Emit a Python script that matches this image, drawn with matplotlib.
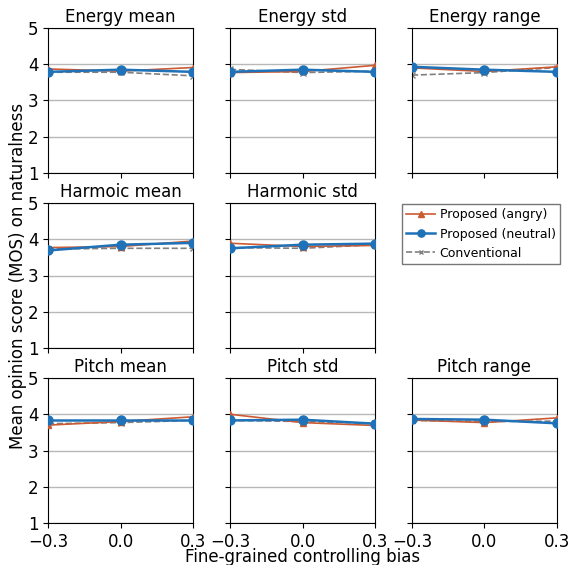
import matplotlib
matplotlib.use("Agg")
import matplotlib.pyplot as plt
import numpy as np

bias = [-0.3, 0.0, 0.3]
titles = ["Energy mean", "Energy std", "Energy range",
          "Harmoic mean", "Harmonic std", None,
          "Pitch mean", "Pitch std", "Pitch range"]

angry = {
    "Energy mean":  [3.87, 3.81, 3.91],
    "Energy std":   [3.77, 3.80, 3.97],
    "Energy range": [3.90, 3.80, 3.93],
    "Harmoic mean": [3.77, 3.80, 3.95],
    "Harmonic std": [3.89, 3.80, 3.83],
    "Pitch mean":   [3.70, 3.80, 3.93],
    "Pitch std":    [4.00, 3.77, 3.69],
    "Pitch range":  [3.84, 3.77, 3.90],
}
neutral = {
    "Energy mean":  [3.79, 3.85, 3.79],
    "Energy std":   [3.79, 3.85, 3.79],
    "Energy range": [3.93, 3.85, 3.79],
    "Harmoic mean": [3.69, 3.85, 3.90],
    "Harmonic std": [3.75, 3.85, 3.88],
    "Pitch mean":   [3.85, 3.85, 3.85],
    "Pitch std":    [3.83, 3.85, 3.74],
    "Pitch range":  [3.87, 3.85, 3.75],
}
conventional = {
    "Energy mean":  [3.78, 3.78, 3.68],
    "Energy std":   [3.86, 3.77, 3.81],
    "Energy range": [3.70, 3.77, 3.91],
    "Harmoic mean": [3.73, 3.75, 3.75],
    "Harmonic std": [3.77, 3.75, 3.85],
    "Pitch mean":   [3.74, 3.77, 3.83],
    "Pitch std":    [3.83, 3.80, 3.75],
    "Pitch range":  [3.83, 3.80, 3.81],
}

orange = "#cc5a32"
blue = "#1f72b8"

fig, axes = plt.subplots(3, 3, figsize=(5.69, 5.65), dpi=100)
fig.subplots_adjust(left=48/569, right=557/569, top=1-28/565, bottom=1-523/565,
                    wspace=0.255, hspace=0.207)

handles = None
for i, ax in enumerate(axes.flat):
    t = titles[i]
    if t is None:
        ax.axis("off")
        continue
    ha, = ax.plot(bias, angry[t], color=orange, marker="^", ms=5, lw=1.2, zorder=3)
    hc, = ax.plot(bias, conventional[t], color="gray", ls="--", marker="x", ms=4, lw=1.2, zorder=2)
    hn, = ax.plot(bias, neutral[t], color=blue, marker="o", ms=6.5, lw=1.8, zorder=4)
    handles = (ha, hn, hc)
    ax.set_title(t, fontsize=12, pad=4)
    ax.set_xlim(-0.3, 0.3)
    ax.set_ylim(1, 5)
    ax.set_xticks([-0.3, 0.0, 0.3])
    ax.set_yticks([1, 2, 3, 4, 5])
    ax.yaxis.grid(True, color="#b8b8b8", lw=1)
    ax.set_axisbelow(True)
    r, c = divmod(i, 3)
    if c == 0:
        ax.set_yticklabels(["1", "2", "3", "4", "5"], fontsize=12)
    else:
        ax.set_yticklabels([])
    if r == 2:
        ax.set_xticklabels(["\u22120.3", "0.0", "0.3"], fontsize=12)
    else:
        ax.set_xticklabels([])

fig.legend(handles, ["Proposed (angry)", "Proposed (neutral)", "Conventional"],
           loc="upper left", bbox_to_anchor=(402/569, 1-204/565), fontsize=9,
           borderaxespad=0, fancybox=False, edgecolor="#555555", markerscale=0.8,
           handlelength=2.3, handletextpad=0.35, borderpad=0.35, labelspacing=0.5)

fig.text(18/569, 0.5*(1-28/565 + 1-523/565), "Mean opinion score (MOS) on naturalness",
         rotation=90, va="center", ha="center", fontsize=12)
fig.text(0.5*(48+557)/569, 1-557/565, "Fine-grained controlling bias",
         ha="center", va="center", fontsize=12)

fig.savefig("out.png", dpi=100)
